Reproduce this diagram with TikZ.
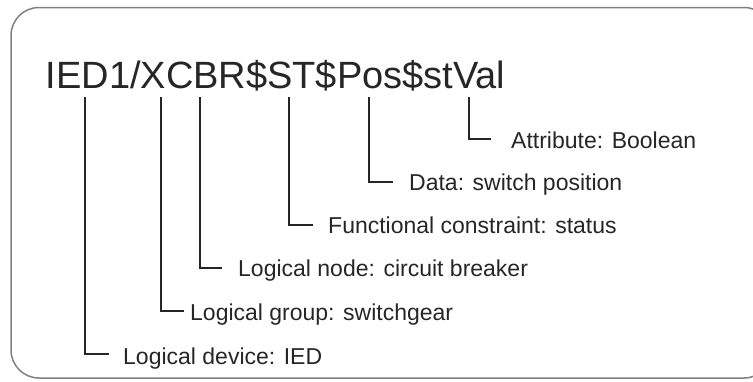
\documentclass[tikz,border=0pt]{standalone}
\usepackage{fontspec}
\setmainfont{Liberation Sans}
\begin{document}
\begin{tikzpicture}[x=1pt,y=-1pt,
  bracket/.style={draw=black!85, line width=1.6pt},
  tag/.style={anchor=base west, inner sep=0pt, font=\fontsize{23}{26}\selectfont, text=black!85},
]
\useasboundingbox (0,0) rectangle (753,381);
% frame, running past the right edge
\begin{scope}
  \clip (0,0) rectangle (753,381);
  \draw[black!50, line width=1.5pt, rounded corners=28pt] (11,7.5) rectangle (772,378);
\end{scope}

% the object reference
\node[anchor=base west, inner sep=0pt, font=\fontsize{38}{42}\selectfont, text=black!85]
  (name) at (45.5,88) {IED1/XCBR\$ST\$Pos\$stVal};

% labels
\node[tag] (attr)  at (511,148) {Attribute: Boolean};
\node[tag] (data)  at (409,190) {Data: switch position};
\node[tag] (fc)    at (328,233) {Functional constraint: status};
\node[tag] (ln)    at (238,276) {Logical node: circuit breaker};
\node[tag] (lg)    at (190,320) {Logical group: switchgear};
\node[tag] (ld)    at (123,364) {Logical device: IED};

% bracket ends
\coordinate (t1) at (85,97);  \coordinate (e1) at (109,354);
\coordinate (t2) at (161,97); \coordinate (e2) at (184,311);
\coordinate (t3) at (200,97); \coordinate (e3) at (222,268);
\coordinate (t4) at (289,97); \coordinate (e4) at (313,225);
\coordinate (t5) at (369,97); \coordinate (e5) at (393,182);
\coordinate (t6) at (469,97); \coordinate (e6) at (491,139);

\foreach \i in {1,...,6} \draw[bracket] (t\i) |- (e\i);
\end{tikzpicture}
\end{document}
